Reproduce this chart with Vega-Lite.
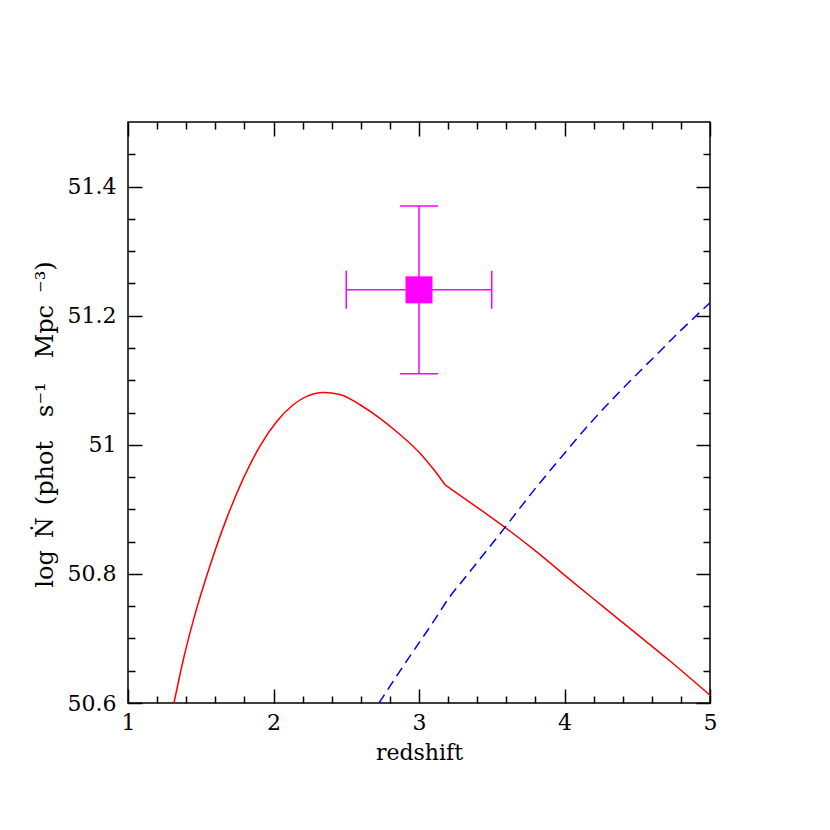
{
  "$schema": "https://vega.github.io/schema/vega-lite/v6.json",
  "width": 582,
  "height": 581,
  "autosize": {"type": "none"},
  "padding": {"left": 128, "top": 122, "right": 120, "bottom": 127},
  "background": "white",
  "config": {
    "view": {"stroke": "black", "strokeWidth": 1.5},
    "font": "DejaVu Serif",
    "axis": {"grid": false, "domain": false, "labelFlush": false, "labelFont": "DejaVu Serif", "titleFont": "DejaVu Serif", "labelColor": "black", "titleColor": "black", "tickColor": "black", "tickWidth": 1.5, "titleFontWeight": "normal"}
  },
  "datasets": {
    "red": [
      {"seg": "a", "z": 1.316, "v": 50.6}, {"seg": "a", "z": 1.38, "v": 50.667}, {"seg": "a", "z": 1.449, "v": 50.728}, {"seg": "a", "z": 1.564, "v": 50.813}, {"seg": "a", "z": 1.678, "v": 50.886},
      {"seg": "a", "z": 1.793, "v": 50.948}, {"seg": "a", "z": 1.907, "v": 50.998}, {"seg": "a", "z": 2.022, "v": 51.036}, {"seg": "a", "z": 2.136, "v": 51.062},
      {"seg": "a", "z": 2.228, "v": 51.075}, {"seg": "a", "z": 2.342, "v": 51.081}, {"seg": "a", "z": 2.457, "v": 51.078}, {"seg": "a", "z": 2.594, "v": 51.062},
      {"seg": "a", "z": 2.732, "v": 51.041}, {"seg": "a", "z": 2.869, "v": 51.016}, {"seg": "a", "z": 3.007, "v": 50.987}, {"seg": "a", "z": 3.1, "v": 50.962},
      {"seg": "a", "z": 3.179, "v": 50.938},
      {"seg": "b", "z": 3.179, "v": 50.938}, {"seg": "b", "z": 3.419, "v": 50.9}, {"seg": "b", "z": 3.591, "v": 50.872}, {"seg": "b", "z": 3.809, "v": 50.834},
      {"seg": "b", "z": 4.038, "v": 50.791}, {"seg": "b", "z": 4.267, "v": 50.749}, {"seg": "b", "z": 4.496, "v": 50.707}, {"seg": "b", "z": 4.725, "v": 50.665},
      {"seg": "b", "z": 5.0, "v": 50.612}
    ],
    "blue": [
      {"z": 2.725, "v": 50.6}, {"z": 2.9, "v": 50.66}, {"z": 3.099, "v": 50.726}, {"z": 3.213, "v": 50.765},
      {"z": 3.305, "v": 50.791}, {"z": 3.591, "v": 50.872}, {"z": 3.763, "v": 50.922}, {"z": 3.993, "v": 50.985},
      {"z": 4.175, "v": 51.033}, {"z": 4.404, "v": 51.088}, {"z": 4.634, "v": 51.14}, {"z": 4.794, "v": 51.176},
      {"z": 5.0, "v": 51.22}
    ],
    "pt": [{"z": 3, "v": 51.24, "zlo": 2.5, "zhi": 3.5, "vlo": 51.11, "vhi": 51.37}],
    "vcaps": [{"z": 3, "v": 51.11}, {"z": 3, "v": 51.37}],
    "hcaps": [{"z": 2.5, "v": 51.24}, {"z": 3.5, "v": 51.24}]
  },
  "resolve": {"scale": {"x": "shared", "y": "shared"}, "axis": {"x": "independent", "y": "independent"}},
  "layer": [
    {
      "data": {"name": "red"},
      "mark": {"type": "line", "color": "#ff0000", "strokeWidth": 1.5, "clip": true, "interpolate": "monotone"},
      "encoding": {
        "detail": {"field": "seg", "type": "nominal"},
        "x": {"field": "z", "type": "quantitative", "scale": {"domain": [1, 5], "nice": false, "zero": false},
          "axis": {"orient": "bottom", "values": [1, 2, 3, 4, 5], "ticks": false, "labelFontSize": 22, "labelPadding": 9, "title": "redshift", "titleFontSize": 22, "titlePadding": 9, "format": "~g"}},
        "y": {"field": "v", "type": "quantitative", "scale": {"domain": [50.6, 51.5], "nice": false, "zero": false},
          "axis": {"orient": "left", "values": [50.6, 50.8, 51, 51.2, 51.4], "ticks": false, "labelFontSize": 22, "labelPadding": 12, "format": ".4~g", "title": "log\u2002Ṅ\u2002(phot\u2003s⁻¹\u2003Mpc\u2002⁻³)", "titleFontSize": 24, "titlePadding": 10, "titleY": 302}}
      }
    },
    {
      "data": {"name": "blue"},
      "mark": {"type": "line", "color": "#0000ff", "strokeWidth": 1.5, "strokeDash": [10, 6], "clip": true, "interpolate": "monotone"},
      "encoding": {
        "x": {"field": "z", "type": "quantitative", "axis": {"orient": "bottom", "values": [1, 2, 3, 4, 5], "labels": false, "tickSize": -14, "title": null}},
        "y": {"field": "v", "type": "quantitative", "axis": {"orient": "left", "values": [50.6, 50.8, 51, 51.2, 51.4], "labels": false, "tickSize": -14, "title": null}}
      }
    },
    {
      "data": {"name": "pt"},
      "mark": {"type": "rule", "color": "#ff00ff", "strokeWidth": 1.5},
      "encoding": {
        "x": {"field": "z", "type": "quantitative", "axis": {"orient": "bottom", "values": [1.2, 1.4, 1.6, 1.8, 2.2, 2.4, 2.6, 2.8, 3.2, 3.4, 3.6, 3.8, 4.2, 4.4, 4.6, 4.8], "labels": false, "tickSize": -7, "title": null}},
        "y": {"field": "vlo", "type": "quantitative", "axis": {"orient": "left", "values": [50.65, 50.7, 50.75, 50.85, 50.9, 50.95, 51.05, 51.1, 51.15, 51.25, 51.3, 51.35, 51.45], "labels": false, "tickSize": -7, "title": null}},
        "y2": {"field": "vhi"}
      }
    },
    {
      "data": {"name": "pt"},
      "mark": {"type": "rule", "color": "#ff00ff", "strokeWidth": 1.5},
      "encoding": {
        "x": {"field": "zlo", "type": "quantitative", "axis": {"orient": "top", "values": [1, 2, 3, 4, 5], "labels": false, "tickSize": -14, "title": null}},
        "x2": {"field": "zhi"},
        "y": {"field": "v", "type": "quantitative", "axis": {"orient": "right", "values": [50.6, 50.8, 51, 51.2, 51.4], "labels": false, "tickSize": -14, "title": null}}
      }
    },
    {
      "data": {"name": "vcaps"},
      "mark": {"type": "tick", "orient": "horizontal", "color": "#ff00ff", "size": 38, "thickness": 1.5, "opacity": 1},
      "encoding": {
        "x": {"field": "z", "type": "quantitative", "axis": {"orient": "top", "values": [1.2, 1.4, 1.6, 1.8, 2.2, 2.4, 2.6, 2.8, 3.2, 3.4, 3.6, 3.8, 4.2, 4.4, 4.6, 4.8], "labels": false, "tickSize": -7, "title": null}},
        "y": {"field": "v", "type": "quantitative", "axis": {"orient": "right", "values": [50.65, 50.7, 50.75, 50.85, 50.9, 50.95, 51.05, 51.1, 51.15, 51.25, 51.3, 51.35, 51.45], "labels": false, "tickSize": -7, "title": null}}
      }
    },
    {
      "data": {"name": "hcaps"},
      "mark": {"type": "tick", "orient": "vertical", "color": "#ff00ff", "size": 38, "thickness": 1.5, "opacity": 1},
      "encoding": {
        "x": {"field": "z", "type": "quantitative", "axis": null},
        "y": {"field": "v", "type": "quantitative", "axis": null}
      }
    },
    {
      "data": {"name": "pt"},
      "mark": {"type": "point", "shape": "square", "filled": true, "color": "#ff00ff", "size": 729, "opacity": 1},
      "encoding": {
        "x": {"field": "z", "type": "quantitative", "axis": null},
        "y": {"field": "v", "type": "quantitative", "axis": null}
      }
    }
  ]
}
